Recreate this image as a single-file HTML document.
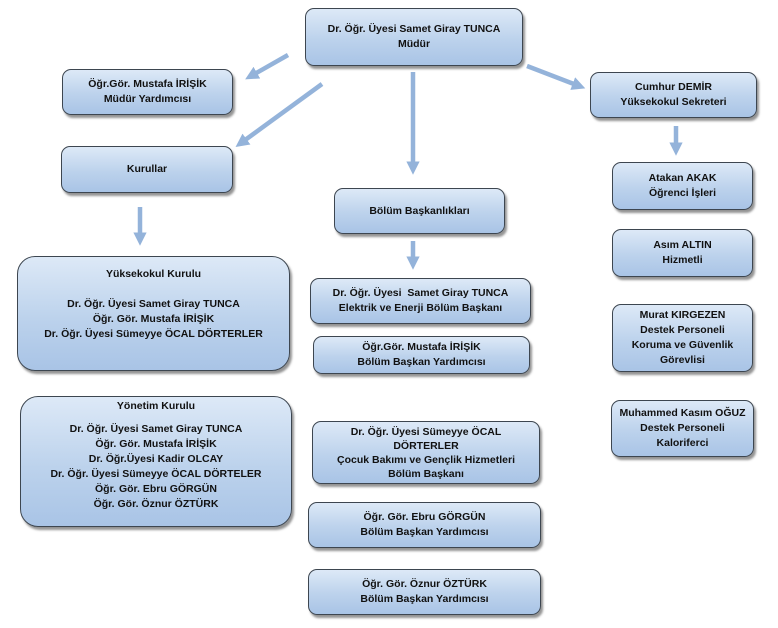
<!DOCTYPE html>
<html><head><meta charset="utf-8"><style>
html,body{margin:0;padding:0;background:#fff;}
body{width:778px;height:628px;position:relative;overflow:hidden;font-family:"Liberation Sans","DejaVu Sans",sans-serif;}
.b{position:absolute;box-sizing:border-box;border:1.5px solid #3d4650;border-radius:9px;
background:linear-gradient(#dde9f7,#bcd2ec 55%,#a9c4e6);
box-shadow:2px 3px 2px rgba(60,60,60,.55);display:flex;flex-direction:column;justify-content:center;align-items:center;
text-align:center;font-weight:bold;font-size:10.5px;line-height:15px;color:#111;}
.r{border-radius:18px;}
svg{position:absolute;left:0;top:0;}
</style></head><body>
<svg width="778" height="628">
<defs><marker id="a" markerWidth="3" markerHeight="3" refX="1.5" refY="1.5" orient="auto"><path d="M0,0 L3,1.5 L0,3 Z" fill="#94b3da"/></marker></defs>
<g stroke="#94b3da" stroke-width="4.5" marker-end="url(#a)" fill="none">
<line x1="288" y1="55" x2="251" y2="76"/>
<line x1="322" y1="84" x2="241" y2="143"/>
<line x1="413" y1="72" x2="413" y2="168"/>
<line x1="527" y1="66" x2="579" y2="86"/>
<line x1="140" y1="207" x2="140" y2="239"/>
<line x1="413" y1="241" x2="413" y2="263"/>
<line x1="676" y1="126" x2="676" y2="149"/>
</g></svg>
<div class="b" style="left:305px;top:8px;width:218px;height:58px">Dr. Öğr. Üyesi Samet Giray TUNCA<br>Müdür</div>
<div class="b" style="left:62px;top:69px;width:171px;height:46px">Öğr.Gör. Mustafa İRİŞİK<br>Müdür Yardımcısı</div>
<div class="b" style="left:61px;top:146px;width:172px;height:47px">Kurullar</div>
<div class="b" style="left:590px;top:72px;width:167px;height:46px">Cumhur DEMİR<br>Yüksekokul Sekreteri</div>
<div class="b" style="left:334px;top:188px;width:171px;height:46px">Bölüm Başkanlıkları</div>
<div class="b r" style="left:17px;top:256px;width:273px;height:115px;justify-content:flex-start;padding-top:10px">Yüksekokul Kurulu<br><br>Dr. Öğr. Üyesi Samet Giray TUNCA<br>Öğr. Gör. Mustafa İRİŞİK<br>Dr. Öğr. Üyesi Sümeyye ÖCAL DÖRTERLER</div>
<div class="b r" style="left:20px;top:396px;width:272px;height:131px;justify-content:flex-start;padding-top:2px;line-height:15px">Yönetim Kurulu<br><span style="line-height:8px">&nbsp;</span>Dr. Öğr. Üyesi Samet Giray TUNCA<br>Öğr. Gör. Mustafa İRİŞİK<br>Dr. Öğr.Üyesi Kadir OLCAY<br>Dr. Öğr. Üyesi Sümeyye ÖCAL DÖRTELER<br>Öğr. Gör. Ebru GÖRGÜN<br>Öğr. Gör. Öznur ÖZTÜRK</div>
<div class="b" style="left:310px;top:278px;width:221px;height:46px">Dr. Öğr. Üyesi &nbsp;Samet Giray TUNCA<br>Elektrik ve Enerji Bölüm Başkanı</div>
<div class="b" style="left:313px;top:336px;width:217px;height:38px">Öğr.Gör. Mustafa İRİŞİK<br>Bölüm Başkan Yardımcısı</div>
<div class="b" style="left:312px;top:421px;width:228px;height:63px;line-height:14px">Dr. Öğr. Üyesi Sümeyye ÖCAL<br>DÖRTERLER<br>Çocuk Bakımı ve Gençlik Hizmetleri<br>Bölüm Başkanı</div>
<div class="b" style="left:308px;top:502px;width:233px;height:46px">Öğr. Gör. Ebru GÖRGÜN<br>Bölüm Başkan Yardımcısı</div>
<div class="b" style="left:308px;top:569px;width:233px;height:46px">Öğr. Gör. Öznur ÖZTÜRK<br>Bölüm Başkan Yardımcısı</div>
<div class="b" style="left:612px;top:162px;width:141px;height:48px">Atakan AKAK<br>Öğrenci İşleri</div>
<div class="b" style="left:612px;top:229px;width:141px;height:48px">Asım ALTIN<br>Hizmetli</div>
<div class="b" style="left:612px;top:304px;width:141px;height:68px;line-height:15px">Murat KIRGEZEN<br>Destek Personeli<br>Koruma ve Güvenlik<br>Görevlisi</div>
<div class="b" style="left:611px;top:400px;width:143px;height:57px;line-height:15px">Muhammed Kasım OĞUZ<br>Destek Personeli<br>Kaloriferci</div>
</body></html>
